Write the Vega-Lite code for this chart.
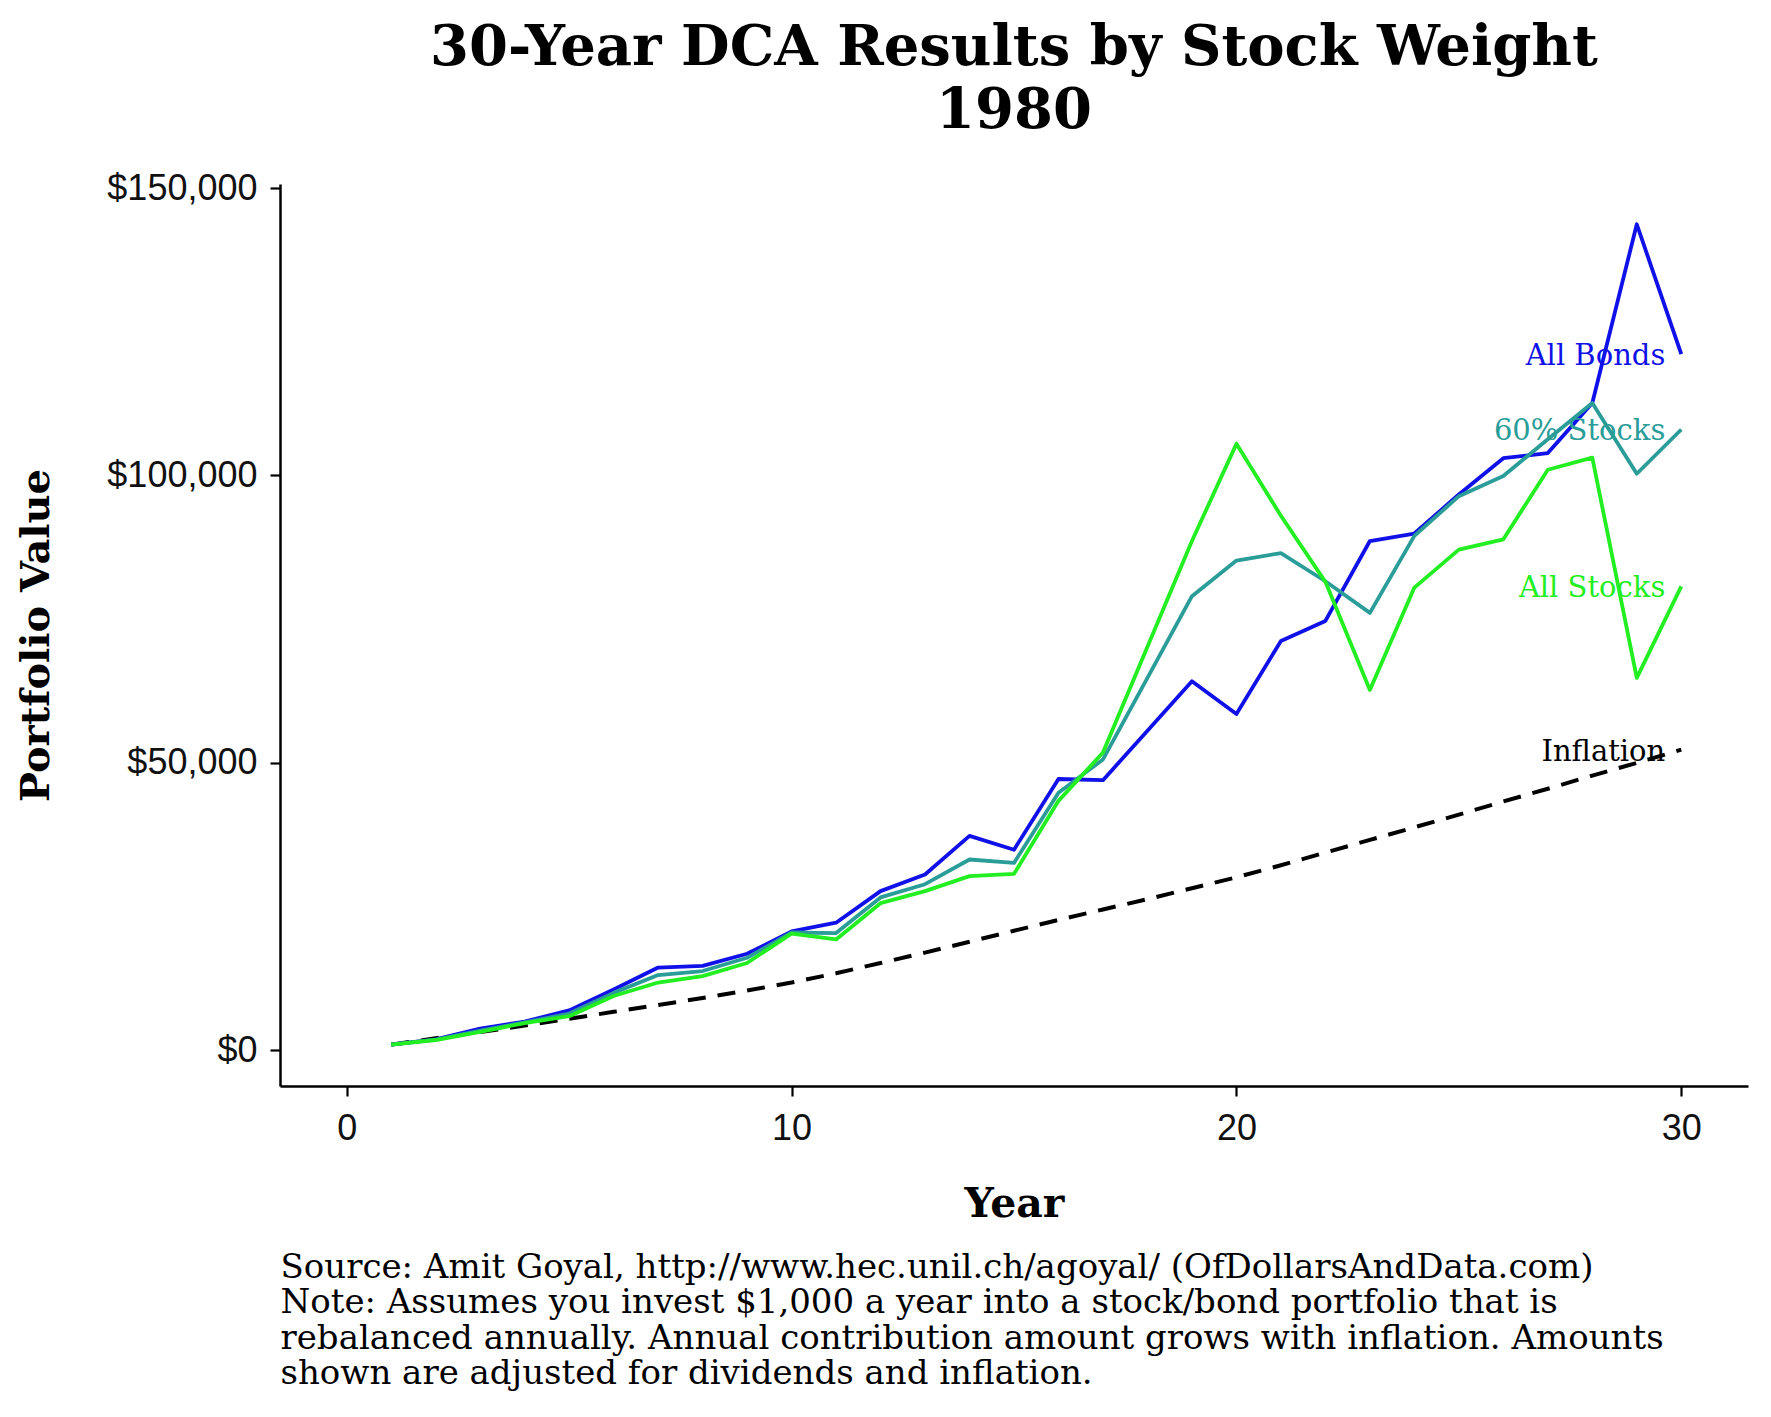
{
  "$schema": "https://vega.github.io/schema/vega-lite/v6.json",
  "width": 1468,
  "height": 902,
  "autosize": {"type": "none"},
  "padding": {"left": 280, "top": 184, "right": 23, "bottom": 331},
  "background": "white",
  "config": {"view": {"stroke": null}},
  "title": {
    "text": ["30-Year DCA Results by Stock Weight", "1980"],
    "font": "DejaVu Serif",
    "fontSize": 56,
    "fontWeight": "bold",
    "color": "black",
    "anchor": "middle",
    "frame": "group",
    "lineHeight": 63,
    "offset": 30
  },
  "data": {
    "values": [
      {"year": 1, "series": "All Bonds", "value": 1000},
      {"year": 2, "series": "All Bonds", "value": 1900},
      {"year": 3, "series": "All Bonds", "value": 3800},
      {"year": 4, "series": "All Bonds", "value": 5000},
      {"year": 5, "series": "All Bonds", "value": 6950},
      {"year": 6, "series": "All Bonds", "value": 10600},
      {"year": 7, "series": "All Bonds", "value": 14400},
      {"year": 8, "series": "All Bonds", "value": 14700},
      {"year": 9, "series": "All Bonds", "value": 16800},
      {"year": 10, "series": "All Bonds", "value": 20700},
      {"year": 11, "series": "All Bonds", "value": 22200},
      {"year": 12, "series": "All Bonds", "value": 27700},
      {"year": 13, "series": "All Bonds", "value": 30600},
      {"year": 14, "series": "All Bonds", "value": 37300},
      {"year": 15, "series": "All Bonds", "value": 34900},
      {"year": 16, "series": "All Bonds", "value": 47200},
      {"year": 17, "series": "All Bonds", "value": 47000},
      {"year": 18, "series": "All Bonds", "value": 55600},
      {"year": 19, "series": "All Bonds", "value": 64200},
      {"year": 20, "series": "All Bonds", "value": 58500},
      {"year": 21, "series": "All Bonds", "value": 71200},
      {"year": 22, "series": "All Bonds", "value": 74700},
      {"year": 23, "series": "All Bonds", "value": 88600},
      {"year": 24, "series": "All Bonds", "value": 89900},
      {"year": 25, "series": "All Bonds", "value": 96700},
      {"year": 26, "series": "All Bonds", "value": 103000},
      {"year": 27, "series": "All Bonds", "value": 103900},
      {"year": 28, "series": "All Bonds", "value": 112600},
      {"year": 29, "series": "All Bonds", "value": 143700},
      {"year": 30, "series": "All Bonds", "value": 121100},
      {"year": 1, "series": "60% Stocks", "value": 1000},
      {"year": 2, "series": "60% Stocks", "value": 1850},
      {"year": 3, "series": "60% Stocks", "value": 3450},
      {"year": 4, "series": "60% Stocks", "value": 4850},
      {"year": 5, "series": "60% Stocks", "value": 6400},
      {"year": 6, "series": "60% Stocks", "value": 10000},
      {"year": 7, "series": "60% Stocks", "value": 13100},
      {"year": 8, "series": "60% Stocks", "value": 13800},
      {"year": 9, "series": "60% Stocks", "value": 16100},
      {"year": 10, "series": "60% Stocks", "value": 20500},
      {"year": 11, "series": "60% Stocks", "value": 20400},
      {"year": 12, "series": "60% Stocks", "value": 26600},
      {"year": 13, "series": "60% Stocks", "value": 28900},
      {"year": 14, "series": "60% Stocks", "value": 33200},
      {"year": 15, "series": "60% Stocks", "value": 32600},
      {"year": 16, "series": "60% Stocks", "value": 44800},
      {"year": 17, "series": "60% Stocks", "value": 50600},
      {"year": 18, "series": "60% Stocks", "value": 64800},
      {"year": 19, "series": "60% Stocks", "value": 79000},
      {"year": 20, "series": "60% Stocks", "value": 85200},
      {"year": 21, "series": "60% Stocks", "value": 86500},
      {"year": 22, "series": "60% Stocks", "value": 81600},
      {"year": 23, "series": "60% Stocks", "value": 76100},
      {"year": 24, "series": "60% Stocks", "value": 89500},
      {"year": 25, "series": "60% Stocks", "value": 96400},
      {"year": 26, "series": "60% Stocks", "value": 99900},
      {"year": 27, "series": "60% Stocks", "value": 106300},
      {"year": 28, "series": "60% Stocks", "value": 112600},
      {"year": 29, "series": "60% Stocks", "value": 100300},
      {"year": 30, "series": "60% Stocks", "value": 108000},
      {"year": 1, "series": "All Stocks", "value": 1000},
      {"year": 2, "series": "All Stocks", "value": 1800},
      {"year": 3, "series": "All Stocks", "value": 3200},
      {"year": 4, "series": "All Stocks", "value": 4750},
      {"year": 5, "series": "All Stocks", "value": 5950},
      {"year": 6, "series": "All Stocks", "value": 9450},
      {"year": 7, "series": "All Stocks", "value": 11800},
      {"year": 8, "series": "All Stocks", "value": 12900},
      {"year": 9, "series": "All Stocks", "value": 15200},
      {"year": 10, "series": "All Stocks", "value": 20300},
      {"year": 11, "series": "All Stocks", "value": 19300},
      {"year": 12, "series": "All Stocks", "value": 25600},
      {"year": 13, "series": "All Stocks", "value": 27700},
      {"year": 14, "series": "All Stocks", "value": 30300},
      {"year": 15, "series": "All Stocks", "value": 30700},
      {"year": 16, "series": "All Stocks", "value": 43400},
      {"year": 17, "series": "All Stocks", "value": 51800},
      {"year": 18, "series": "All Stocks", "value": 70200},
      {"year": 19, "series": "All Stocks", "value": 88600},
      {"year": 20, "series": "All Stocks", "value": 105500},
      {"year": 21, "series": "All Stocks", "value": 93000},
      {"year": 22, "series": "All Stocks", "value": 81500},
      {"year": 23, "series": "All Stocks", "value": 62700},
      {"year": 24, "series": "All Stocks", "value": 80500},
      {"year": 25, "series": "All Stocks", "value": 87100},
      {"year": 26, "series": "All Stocks", "value": 88900},
      {"year": 27, "series": "All Stocks", "value": 101000},
      {"year": 28, "series": "All Stocks", "value": 103100},
      {"year": 29, "series": "All Stocks", "value": 64800},
      {"year": 30, "series": "All Stocks", "value": 80700},
      {"year": 1, "series": "Inflation", "value": 1000},
      {"year": 2, "series": "Inflation", "value": 2100},
      {"year": 3, "series": "Inflation", "value": 3200},
      {"year": 4, "series": "Inflation", "value": 4300},
      {"year": 5, "series": "Inflation", "value": 5500},
      {"year": 6, "series": "Inflation", "value": 6700},
      {"year": 7, "series": "Inflation", "value": 7900},
      {"year": 8, "series": "Inflation", "value": 9100},
      {"year": 9, "series": "Inflation", "value": 10400},
      {"year": 10, "series": "Inflation", "value": 11800},
      {"year": 11, "series": "Inflation", "value": 13400},
      {"year": 12, "series": "Inflation", "value": 15200},
      {"year": 13, "series": "Inflation", "value": 17000},
      {"year": 14, "series": "Inflation", "value": 18900},
      {"year": 15, "series": "Inflation", "value": 20800},
      {"year": 16, "series": "Inflation", "value": 22700},
      {"year": 17, "series": "Inflation", "value": 24500},
      {"year": 18, "series": "Inflation", "value": 26300},
      {"year": 19, "series": "Inflation", "value": 28200},
      {"year": 20, "series": "Inflation", "value": 30100},
      {"year": 21, "series": "Inflation", "value": 32200},
      {"year": 22, "series": "Inflation", "value": 34400},
      {"year": 23, "series": "Inflation", "value": 36600},
      {"year": 24, "series": "Inflation", "value": 38800},
      {"year": 25, "series": "Inflation", "value": 41000},
      {"year": 26, "series": "Inflation", "value": 43300},
      {"year": 27, "series": "Inflation", "value": 45500},
      {"year": 28, "series": "Inflation", "value": 47800},
      {"year": 29, "series": "Inflation", "value": 50000},
      {"year": 30, "series": "Inflation", "value": 52300}
    ]
  },
  "resolve": {"axis": {"x": "independent"}},
  "layer": [
    {
      "transform": [{"filter": "datum.series == 'Inflation'"}],
      "mark": {"type": "line", "strokeWidth": 4, "strokeDash": [18, 12], "color": "black"},
      "encoding": {
        "x": {"field": "year", "type": "quantitative", "axis": null},
        "y": {
          "field": "value", "type": "quantitative",
          "scale": {"domain": [-6200, 150700], "nice": false, "zero": false},
          "axis": {
            "values": [0, 50000, 100000, 150000], "format": "$,.0f", "grid": false,
            "title": "Portfolio Value", "titleFont": "DejaVu Serif", "titleFontSize": 40, "titleFontWeight": "bold", "titleColor": "black", "titlePadding": 50,
            "labelFont": "Liberation Sans", "labelFontSize": 36, "labelColor": "#111111", "labelPadding": 13,
            "tickSize": 10, "tickWidth": 2.2, "tickColor": "black",
            "domainColor": "black", "domainWidth": 2.5
          }
        }
      }
    },
    {
      "transform": [{"filter": "datum.series != 'Inflation'"}],
      "mark": {"type": "line", "strokeWidth": 3.8, "strokeJoin": "round"},
      "encoding": {
        "x": {
          "field": "year", "type": "quantitative",
          "scale": {"domain": [-1.5, 31.5], "nice": false, "zero": false},
          "axis": {
            "values": [0, 10, 20, 30], "grid": false,
            "title": "Year", "titleFont": "DejaVu Serif", "titleFontSize": 41, "titleFontWeight": "bold", "titleColor": "black", "titlePadding": 38,
            "labelFont": "Liberation Sans", "labelFontSize": 36, "labelColor": "#111111", "labelPadding": 15,
            "tickSize": 10, "tickWidth": 2.2, "tickColor": "black",
            "domainColor": "black", "domainWidth": 2.5
          }
        },
        "y": {"field": "value", "type": "quantitative"},
        "color": {
          "field": "series", "type": "nominal",
          "scale": {"domain": ["All Bonds", "60% Stocks", "All Stocks", "Inflation"], "range": ["#1010E8", "#2A9D98", "#22EE22", "#000000"]},
          "legend": null
        }
      }
    },
    {
      "transform": [{"filter": "datum.year == 30"}],
      "mark": {"type": "text", "align": "right", "baseline": "middle", "dx": -16, "dy": 2, "font": "DejaVu Serif", "fontSize": 29},
      "encoding": {
        "x": {
          "field": "year", "type": "quantitative",
          "axis": {
            "orient": "bottom", "domain": false, "ticks": false, "labels": false, "grid": false,
            "title": [
              "Source: Amit Goyal, http://www.hec.unil.ch/agoyal/ (OfDollarsAndData.com)",
              "Note: Assumes you invest $1,000 a year into a stock/bond portfolio that is",
              "rebalanced annually. Annual contribution amount grows with inflation. Amounts",
              "shown are adjusted for dividends and inflation."
            ],
            "titleFont": "DejaVu Serif", "titleFontSize": 34, "titleFontWeight": "normal", "titleColor": "black",
            "titleAnchor": "start", "titleAlign": "left", "titleBaseline": "top", "titleLineHeight": 35.5, "titlePadding": 164
          }
        },
        "y": {"field": "value", "type": "quantitative"},
        "text": {"field": "series"},
        "color": {"field": "series", "type": "nominal", "legend": null}
      }
    }
  ]
}
